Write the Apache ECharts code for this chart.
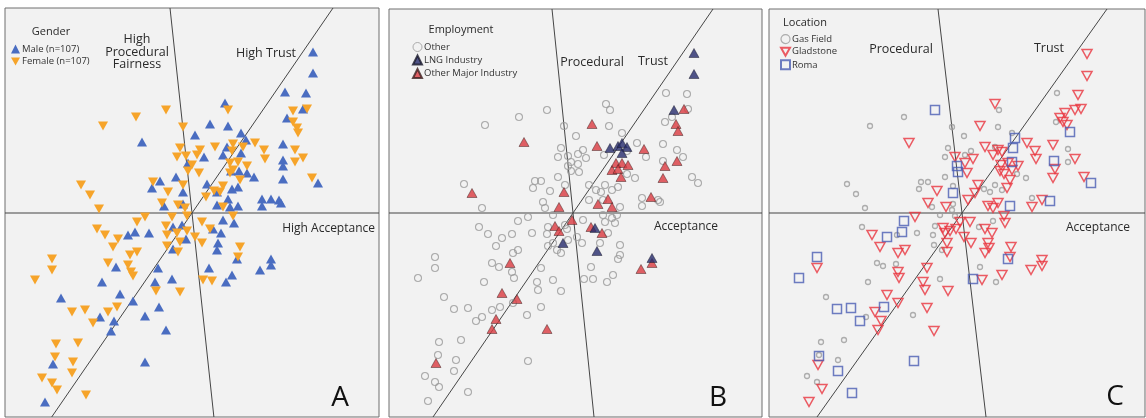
<!DOCTYPE html>
<html>
<head>
<meta charset="utf-8">
<script src="https://cdn.jsdelivr.net/npm/echarts@6/dist/echarts.min.js"></script>
<style>
  html, body { margin: 0; padding: 0; background: #ffffff; }
  #chart { width: 1146px; height: 418px; }
</style>
</head>
<body>
<div id="chart"></div>
<script>
// Respondent scores on the biplot plane (x, y), three codings of the same survey.

// ---- Panel A: Gender ----
const maleScores = [
  [1.21,1.61],[1.21,1.40],[0.93,1.21],[1.14,1.20],[0.33,1.10],[1.11,1.04],[0.95,0.95],[0.18,0.89],
  [0.36,0.87],[0.03,0.78],[-0.50,0.71],[0.49,0.80],[0.54,0.73],[0.91,0.69],[0.35,0.66],[0.31,0.58],
  [0.49,0.60],[0.12,0.56],[0.91,0.53],[0.91,0.47],[-0.04,0.50],[0.39,0.42],[0.47,0.42],[0.55,0.40],
  [0.62,0.36],[0.91,0.34],[1.26,0.30],[-0.32,0.32],[-0.16,0.36],[-0.40,0.25],[-0.09,0.21],[0.15,0.29],
  [0.40,0.24],[0.46,0.26],[0.25,0.21],[0.36,0.14],[0.70,0.14],[0.79,0.14],[0.87,0.13],[0.89,0.10],
  [-0.28,0.07],[-0.09,0.09],[0.25,0.08],[0.38,0.06],[0.46,0.07],[0.70,0.07],
  [-0.57,-0.19],[-0.64,-0.22],[-0.43,-0.20],[-0.19,-0.14],[-0.10,-0.12],[0.31,-0.07],[0.42,-0.10],
  [0.21,-0.16],[0.29,-0.20],[0.26,-0.30],[0.25,-0.37],[-0.06,-0.26],[-0.19,-0.36],[0.45,-0.46],
  [0.79,-0.46],[0.79,-0.52],[0.68,-0.57],[0.17,-0.55],[0.40,-0.62],[0.34,-0.69],[-0.76,-0.54],
  [-0.34,-0.55],[-0.90,-0.69],[-0.37,-0.69],[-0.20,-0.66],[-1.31,-0.85],[-0.72,-0.81],[-0.59,-0.88],
  [-0.33,-0.94],[-0.92,-1.04],[-0.78,-1.08],[-0.81,-1.18],[-0.47,-1.03],[-0.26,-1.17],[-1.39,-1.51],
  [-0.47,-1.49],[-1.47,-1.89]
];
const femaleScores = [
  [-0.89,0.87],[-0.56,0.96],[-0.26,1.03],[-0.09,0.86],[0.36,1.03],[1.01,1.02],[1.15,1.04],[1.01,0.91],
  [1.05,0.85],[1.06,0.80],[-0.12,0.65],[-0.15,0.56],[-0.06,0.57],[0.08,0.63],[0.05,0.58],[0.23,0.66],
  [0.41,0.69],[0.51,0.66],[0.63,0.70],[0.72,0.63],[0.73,0.54],[1.03,0.63],[1.11,0.55],[1.03,0.51],
  [0.00,0.48],[-0.04,0.42],[0.07,0.40],[0.38,0.50],[0.46,0.51],[0.55,0.47],[0.41,0.43],[0.48,0.33],
  [0.38,0.40],[1.20,0.35],[-1.11,0.28],[-1.02,0.18],[-0.39,0.31],[-0.24,0.21],[-0.09,0.28],[0.31,0.27],
  [0.28,0.21],[0.22,0.22],[0.14,0.16],[-0.30,0.10],[-0.14,0.08],[-0.07,0.05],[-0.93,0.04],[0.31,0.06],
  [0.40,0.62],[-0.47,-0.04],[-0.20,-0.04],[-0.05,-0.03],[0.41,-0.03],
  [-0.55,-0.09],[-0.95,-0.16],[-0.87,-0.22],[-0.74,-0.26],[-0.79,-0.34],[-0.26,-0.13],[-0.25,-0.22],
  [-0.25,-0.33],[-0.15,-0.20],[-0.12,-0.29],[-0.14,-0.39],[-0.05,-0.18],[0.10,-0.09],[0.10,-0.30],
  [0.18,-0.16],[0.03,-0.24],[0.48,-0.34],[0.46,-0.44],[-0.55,-0.39],[-0.62,-0.42],[-0.84,-0.50],
  [-0.64,-0.52],[-0.61,-0.59],[-0.59,-0.63],[-1.40,-0.46],[-1.40,-0.57],[-1.57,-0.67],[0.11,-0.67],
  [0.20,-0.68],[-0.12,-0.79],[-0.36,-0.78],[-1.20,-0.99],[-1.07,-0.97],[-0.84,-0.99],[-0.75,-0.94],
  [-0.99,-1.10],[-1.36,-1.31],[-1.14,-1.30],[-1.37,-1.44],[-1.19,-1.49],[-1.20,-1.60],[-1.50,-1.65],
  [-1.40,-1.70],[-1.35,-1.77],[-1.06,-1.82]
];

// ---- Panel B: Employment ----
const otherEmploymentScores = [
  [0.93,1.20],[1.14,1.19],[1.15,1.04],[0.99,0.96],[0.92,0.91],[0.33,1.09],[0.37,1.03],[-0.26,1.03],
  [-0.54,0.96],[-0.88,0.88],[-0.09,0.87],[0.36,0.87],[0.03,0.77],[0.49,0.80],[0.64,0.70],[0.90,0.69],
  [1.04,0.63],[0.73,0.56],[1.10,0.56],[0.90,0.52],[-0.12,0.65],[0.05,0.59],[0.10,0.63],[0.13,0.55],
  [-0.05,0.57],[-0.15,0.56],[-0.02,0.51],[0.05,0.49],[-0.05,0.47],[0.06,0.41],[-0.02,0.42],[0.31,0.58],
  [0.54,0.62],[0.54,0.39],[0.62,0.35],[1.19,0.36],[1.25,0.30],[-0.15,0.36],[-1.09,0.29],[-0.38,0.32],
  [-0.32,0.32],[-0.40,0.25],[-0.23,0.22],[-0.08,0.28],[0.16,0.28],[0.23,0.23],[0.32,0.28],[0.39,0.23],
  [0.45,0.26],[0.28,0.21],[0.16,0.13],[0.69,0.15],[0.85,0.13],[0.87,0.11],[-0.30,0.11],[-0.91,0.05],
  [0.69,0.07],[0.47,0.06],[-0.28,0.05],[0.30,0.13],
  [-0.45,-0.04],[-0.20,-0.02],[0.10,-0.07],[0.30,-0.02],[0.39,-0.05],[0.44,-0.02],[0.32,-0.09],
  [0.42,-0.10],[-0.25,-0.14],[-0.26,-0.21],[-0.06,-0.16],[0.04,-0.24],[0.35,-0.20],[-0.05,-0.27],
  [-0.20,-0.30],[-0.16,-0.37],[-0.12,-0.40],[-0.41,-0.20],[0.27,-0.30],[0.47,-0.32],[-0.94,-0.14],
  [-0.85,-0.21],[-0.71,-0.25],[-0.61,-0.21],[-0.55,-0.08],[-0.25,-0.33],[-0.08,-0.12],[0.09,-0.30],
  [0.47,-0.42],[0.45,-0.46],[0.18,-0.54],[0.11,-0.66],[0.20,-0.66],[0.34,-0.69],[0.40,-0.62],
  [-0.77,-0.33],[-0.60,-0.40],[-0.55,-0.37],[-1.38,-0.44],[-1.38,-0.55],[-1.55,-0.65],[-0.81,-0.50],
  [-0.74,-0.54],[-0.61,-0.59],[-0.59,-0.65],[-0.89,-0.69],[-0.32,-0.55],[-0.36,-0.69],[-0.35,-0.77],
  [-0.20,-0.67],[-0.12,-0.78],[-1.29,-0.84],[-1.19,-0.96],[-1.05,-0.95],[-0.97,-1.08],[-0.91,-1.04],
  [-0.81,-0.97],[-0.73,-0.94],[-0.60,-0.90],[-0.32,-0.94],[-0.46,-1.02],[-1.34,-1.29],[-1.12,-1.27],
  [-1.35,-1.42],[-1.17,-1.47],[-1.19,-1.58],[-1.48,-1.63],[-1.38,-1.69],[-1.34,-1.74],[-1.05,-1.79],
  [-1.45,-1.88],[-0.45,-1.48]
];
const lngScores = [
  [1.21,1.60],[1.21,1.39],[1.01,1.03],[0.37,0.65],[0.45,0.67],[0.49,0.70],[0.54,0.66],[0.49,0.60],
  [0.22,-0.15],[-0.10,-0.30],[0.24,-0.38],[0.79,-0.45]
];
const majorIndustryScores = [
  [1.11,1.04],[1.03,0.89],[1.05,0.82],[0.19,0.89],[-0.49,0.71],[0.24,0.67],[0.71,0.64],[0.92,0.47],
  [1.04,0.52],[0.90,0.35],[0.43,0.50],[0.49,0.50],[0.55,0.48],[0.39,0.43],[0.45,0.44],[0.48,0.36],
  [-1.01,0.20],[-0.09,0.21],[0.25,0.09],[0.35,0.14],[0.78,0.16],[-0.14,0.06],[0.39,0.06],[-0.01,-0.07],
  [-0.18,-0.13],[-0.14,-0.18],[0.18,-0.14],[0.29,-0.20],[0.68,-0.56],[0.79,-0.50],[-0.63,-0.50],
  [-0.71,-0.80],[-0.56,-0.86],[-0.77,-1.06],[-0.81,-1.16],[-0.26,-1.16],[-1.37,-1.50]
];

// ---- Panel C: Location ----
const gasFieldScores = [
  [0.95,1.20],[0.37,1.03],[-0.58,0.96],[-0.92,0.87],[-0.10,0.86],[0.36,0.86],[0.02,0.77],[0.50,0.80],
  [-0.14,0.65],[0.09,0.62],[0.03,0.58],[-0.17,0.56],[0.33,0.66],[1.06,0.64],[1.06,0.51],[0.94,0.91],
  [0.55,0.39],[0.64,0.35],[-0.17,0.36],[-1.15,0.29],[-1.06,0.19],[-0.41,0.31],[-0.34,0.31],[-0.43,0.24],
  [-0.09,0.27],[0.22,0.24],[0.28,0.21],[0.33,0.28],[0.40,0.23],[0.70,0.15],[-0.97,0.05],[-0.30,0.06],
  [-0.09,0.09],[-0.22,-0.02],[-0.10,0.03],[-0.07,-0.03],[-0.27,-0.13],[-0.45,-0.20],[-0.29,-0.22],
  [-0.28,-0.32],[-0.20,-0.37],[0.17,-0.14],[0.31,-0.08],[-1.00,-0.14],[-0.65,-0.22],[0.18,-0.54],
  [0.34,-0.69],[-0.85,-0.50],[-0.79,-0.53],[-0.66,-0.51],[-0.94,-0.69],[-0.22,-0.66],[-1.36,-0.84],
  [-0.96,-1.04],[-0.49,-1.02],[-1.41,-1.29],[-1.18,-1.27],[-1.24,-1.47],[-1.55,-1.63],[-1.45,-1.69],
  [-1.43,-1.42]
];
const gladstoneScores = [
  [1.25,1.59],[1.25,1.37],[1.16,1.18],[0.33,1.09],[1.03,1.00],[1.13,1.03],[1.19,1.04],[0.98,0.95],
  [1.01,0.91],[1.05,0.88],[0.18,0.87],[-0.53,0.70],[0.65,0.70],[0.23,0.66],[0.36,0.63],[0.40,0.61],
  [0.31,0.58],[0.73,0.62],[0.91,0.68],[0.74,0.54],[0.93,0.44],[1.13,0.54],[-0.07,0.56],[0.03,0.50],
  [0.11,0.54],[0.05,0.40],[0.39,0.48],[0.46,0.50],[0.56,0.47],[0.38,0.42],[0.42,0.39],[0.50,0.43],
  [0.48,0.33],[0.45,0.25],[0.91,0.35],[1.22,0.36],[0.16,0.28],[0.13,0.20],[-0.25,0.22],[-0.34,0.10],
  [-0.16,0.06],[0.06,0.13],[0.26,0.07],[0.36,0.10],[0.31,0.05],[0.70,0.06],[0.80,0.13],
  [0.42,-0.03],[0.43,-0.10],[-0.47,-0.04],[-0.90,-0.22],[-0.82,-0.34],[-0.64,-0.40],[-0.57,-0.37],
  [-0.19,-0.15],[-0.17,-0.20],[-0.12,-0.18],[-0.06,-0.16],[-0.02,-0.09],[0.08,-0.09],[0.02,-0.24],
  [-0.15,-0.30],[-0.15,-0.39],[0.23,-0.16],[0.30,-0.20],[0.09,-0.30],[0.26,-0.30],[0.27,-0.35],
  [0.23,-0.40],[0.49,-0.34],[0.48,-0.44],[0.40,-0.62],[0.20,-0.67],[0.69,-0.57],[0.80,-0.47],
  [0.80,-0.53],[-1.45,-0.55],[-0.35,-0.55],[-0.64,-0.59],[-0.63,-0.65],[-0.39,-0.69],[-0.37,-0.77],
  [-0.14,-0.78],[-0.75,-0.82],[-0.64,-0.90],[-0.87,-0.99],[-0.81,-1.08],[-0.84,-1.17],[-0.35,-0.95],
  [-0.28,-1.18],[-1.44,-1.52],[-1.40,-1.76],[-1.53,-1.89]
];
const romaScores = [
  [-0.27,1.03],[0.53,0.75],[0.51,0.65],[0.50,0.51],[-0.05,0.47],[-0.04,0.41],[1.08,0.81],[0.92,0.52],
  [1.29,0.30],[-0.09,0.20],[0.48,0.07],[0.88,0.12],[-0.58,-0.08],[-0.60,-0.19],[-0.75,-0.24],
  [-1.45,-0.44],[-1.63,-0.65],[0.46,-0.46],[0.11,-0.66],[-1.25,-0.96],[-1.11,-0.95],[-1.02,-1.08],
  [-0.78,-0.94],[-1.43,-1.43],[-1.24,-1.58],[-1.10,-1.80],[-0.48,-1.48]
];

// Biplot axis directions (per panel): procedural fairness and trust; acceptance runs along y = 0
const proceduralDirs = [[-0.22, 2.05], [-0.21, 2.04], [-0.24, 2.04]];
const trustDirs = [[1.41, 2.05], [1.40, 2.04], [1.45, 2.04]];

// Text
const panelLetters = ['A', 'B', 'C'];
const legendTitles = ['Gender', 'Employment', 'Location'];
const maleName = 'Male (n=107)';
const femaleName = 'Female (n=107)';

const FONT = "'Open Sans', 'DejaVu Sans', sans-serif";
const downTriangle = 'path://M0,0L20,0L10,18Z';

// Panel frames and axis extents
const frames = [
  { left: 5,   top: 8, width: 374, height: 409, x: [-1.87, 1.87], y: [-2.04, 2.05] },
  { left: 389, top: 9, width: 373, height: 408, x: [-1.84, 1.89], y: [-2.04, 2.04] },
  { left: 769, top: 9, width: 376, height: 408, x: [-1.93, 1.83], y: [-2.04, 2.04] }
];

const grids = frames.map(f => ({
  left: f.left, top: f.top, width: f.width, height: f.height,
  show: true, backgroundColor: '#f2f2f2', borderColor: '#6f6f6f', borderWidth: 1
}));
const xAxes = frames.map((f, i) => ({ gridIndex: i, type: 'value', min: f.x[0], max: f.x[1], show: false }));
const yAxes = frames.map((f, i) => ({ gridIndex: i, type: 'value', min: f.y[0], max: f.y[1], show: false }));

// Reference lines through the origin, running from the bottom edge to the top edge
function throughOrigin(dir, f) {
  const [dx, dy] = dir;
  return [[dx * f.y[0] / dy, f.y[0]], [dx * f.y[1] / dy, f.y[1]]];
}
const lineSeries = [];
frames.forEach((f, i) => {
  const segs = [
    throughOrigin(proceduralDirs[i], f),
    throughOrigin(trustDirs[i], f),
    [[f.x[0], 0], [f.x[1], 0]]
  ];
  segs.forEach(seg => lineSeries.push({
    type: 'line', xAxisIndex: i, yAxisIndex: i, data: seg, symbol: 'none', silent: true,
    lineStyle: { color: '#454545', width: 1 }, z: 1
  }));
});

const scatter = (name, i, data, symbol, size, style, z) => ({
  name, type: 'scatter', xAxisIndex: i, yAxisIndex: i, data, symbol, symbolSize: size,
  itemStyle: style, z: z || 3, silent: true
});

const pointSeries = [
  scatter(maleName, 0, maleScores, 'triangle', [10, 9], { color: '#4a6dc1', opacity: 1 }, 3),
  scatter(femaleName, 0, femaleScores, downTriangle, [10, 9], { color: '#f6a42a', opacity: 1 }, 4),

  scatter('Other', 1, otherEmploymentScores, 'circle', 7,
    { color: 'rgba(0,0,0,0)', borderColor: '#9a9a9a', borderWidth: 1.1 }, 3),
  scatter('LNG Industry', 1, lngScores, 'triangle', [10, 9],
    { color: '#262a6b', borderColor: '#1a1a2a', borderWidth: 0.6 }, 5),
  scatter('Other Major Industry', 1, majorIndustryScores, 'triangle', [10, 9],
    { color: '#d93a40', borderColor: '#3a2020', borderWidth: 0.6 }, 4),

  scatter('Gas Field', 2, gasFieldScores, 'circle', 5,
    { color: 'rgba(0,0,0,0)', borderColor: '#9b9b9b', borderWidth: 1.3 }, 3),
  scatter('Gladstone', 2, gladstoneScores, downTriangle, [10, 9],
    { color: 'rgba(0,0,0,0)', borderColor: '#e8333d', borderWidth: 1.5 }, 4),
  scatter('Roma', 2, romaScores, 'rect', 9,
    { color: 'rgba(0,0,0,0)', borderColor: '#4a5db3', borderWidth: 1.5 }, 5)
];

const legendBase = {
  orient: 'vertical', itemWidth: 9, itemHeight: 9, itemGap: 2.5, selectedMode: false,
  padding: 0, textStyle: { fontFamily: FONT, fontSize: 9.5, color: '#333', padding: [0, 0, 0, -3] }
};
const legends = [
  Object.assign({}, legendBase, { left: 11, top: 44,
    data: [{ name: maleName, icon: 'triangle' }, { name: femaleName, icon: downTriangle }] }),
  Object.assign({}, legendBase, { left: 412, top: 42,
    data: [{ name: 'Other', icon: 'circle', itemStyle: { borderWidth: 1 } },
           { name: 'LNG Industry', icon: 'triangle' },
           { name: 'Other Major Industry', icon: 'triangle' }] }),
  Object.assign({}, legendBase, { left: 780, top: 34,
    data: [{ name: 'Gas Field', icon: 'circle', itemStyle: { borderWidth: 1.2 } },
           { name: 'Gladstone', icon: downTriangle },
           { name: 'Roma', icon: 'rect' }] })
];

// Annotations
const label = (text, x, y, opts) => ({
  type: 'text', x, y, z: 100,
  style: Object.assign({ text, fill: '#2a2a2a', font: `12px ${FONT}`, align: 'center', verticalAlign: 'middle' }, opts || {})
});
const graphics = [
  label(legendTitles[0], 51, 32, { font: `11px ${FONT}` }),
  label(legendTitles[1], 461, 30, { font: `11px ${FONT}` }),
  label(legendTitles[2], 805, 23, { font: `11px ${FONT}` }),

  label('High\nProcedural\nFairness', 137, 52, { lineHeight: 12.5, font: `12.5px ${FONT}` }),
  label('High Trust', 266, 53, { font: `12.5px ${FONT}` }),
  label('High Acceptance', 375, 229, { align: 'right' }),

  label('Procedural', 592, 62, { font: `12.5px ${FONT}` }),
  label('Trust', 653, 61, { font: `12.5px ${FONT}` }),
  label('Acceptance', 686, 227),

  label('Procedural', 901, 49, { font: `12.5px ${FONT}` }),
  label('Trust', 1049, 48, { font: `12.5px ${FONT}` }),
  label('Acceptance', 1098, 228),

  label(panelLetters[0], 340, 398, { font: `28px ${FONT}`, fill: '#111' }),
  label(panelLetters[1], 718, 398, { font: `28px ${FONT}`, fill: '#111' }),
  label(panelLetters[2], 1115, 397, { font: `28px ${FONT}`, fill: '#111' })
];

const chart = echarts.init(document.getElementById('chart'), null, { renderer: 'canvas' });
chart.setOption({
  backgroundColor: '#ffffff',
  animation: false,
  grid: grids,
  xAxis: xAxes,
  yAxis: yAxes,
  legend: legends,
  graphic: graphics,
  series: lineSeries.concat(pointSeries)
});
</script>
</body>
</html>
